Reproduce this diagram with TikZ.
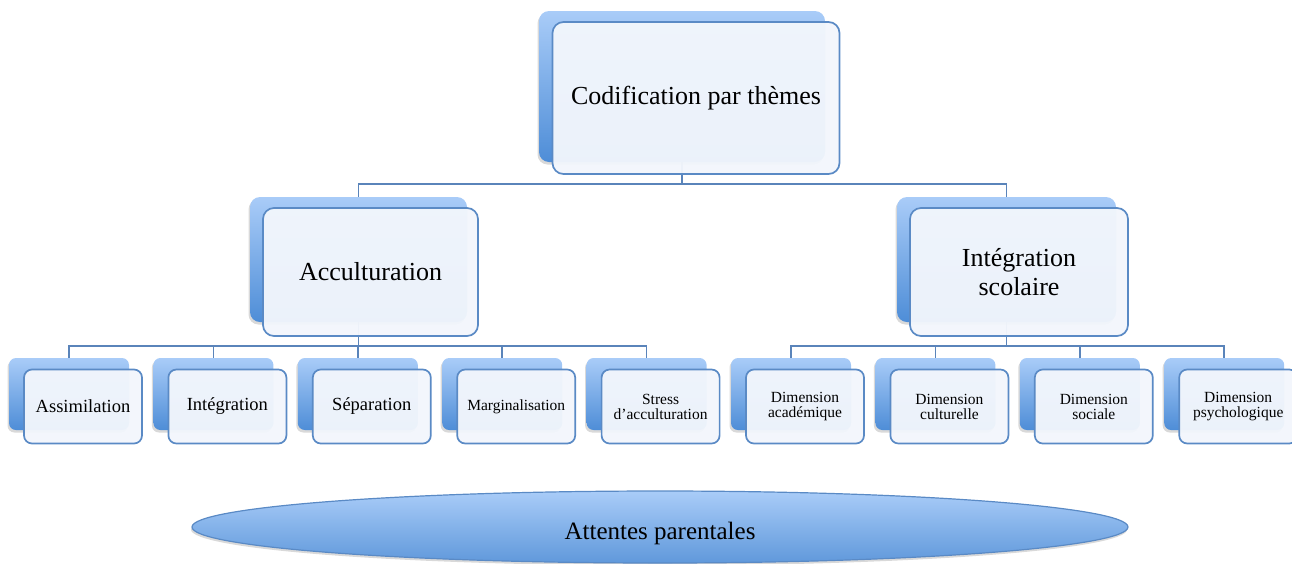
\documentclass[tikz,border=0pt]{standalone}
\usepackage{fontspec}
\setmainfont{Liberation Serif}
\usetikzlibrary{positioning, shapes.geometric, shadows, backgrounds}
\definecolor{boxTop}{HTML}{A9CCF8}
\definecolor{boxBottom}{HTML}{4E8DD7}
\definecolor{cardFill}{HTML}{F2F6FC}
\definecolor{cardLine}{HTML}{5A8AC5}
\definecolor{linkBlue}{HTML}{5A84BA}

\begin{document}
\begin{tikzpicture}[x=1pt, y=-1pt,
          back/.style={rounded corners=10pt, top color=boxTop, bottom color=boxBottom, inner sep=0pt,
            drop shadow={shadow xshift=-1.5pt, shadow yshift=-2.5pt, opacity=0.3}},
          leaf/.style={back, rounded corners=7pt, minimum width=120pt, minimum height=72pt},
          card/.style={draw=cardLine, line width=1.7pt, rounded corners=11pt, fill=cardFill, fill opacity=0.96,
            text opacity=1, align=center, inner sep=1pt},
          leafcard/.style={card, rounded corners=8pt, minimum width=118pt, minimum height=74pt},
          big/.style={font=\fontsize{26}{29}\selectfont},
          small/.style={font=\fontsize{18.5}{20}\selectfont},
          tiny/.style={font=\fontsize{15.5}{15}\selectfont},
          link/.style={draw=linkBlue, line width=1.7pt},
        ]
        \useasboundingbox (0,0) rectangle (1292,563);

        \node[back, minimum width=286pt, minimum height=151pt] (root) at (682,86.5) {};
        \node[back, minimum width=217pt, minimum height=125pt] (acc) at (358.5,259.5) {};
        \node[back, minimum width=219pt, minimum height=125pt] (integ) at (1006.5,259.5) {};

        \node[leaf] (assim) at (69,394) {};
        \node[leaf, right=24pt of assim] (integr) {};
        \node[leaf, right=24pt of integr] (separ) {};
        \node[leaf, right=24pt of separ] (margin) {};
        \node[leaf, right=24pt of margin] (stress) {};
        \node[leaf, right=24pt of stress] (acad) {};
        \node[leaf, right=24pt of acad] (cult) {};
        \node[leaf, right=24pt of cult] (soc) {};
        \node[leaf, right=24pt of soc] (psy) {};

        \node[card, big, minimum width=287pt, minimum height=152pt] (rootCard) at ([shift={(14,11.5)}]root.center) {Codification par thèmes};
        \node[card, big, minimum width=215pt, minimum height=128pt] (accCard) at ([shift={(12,12.5)}]acc.center) {Acculturation};
        \node[card, big, minimum width=218pt, minimum height=128pt] (integCard) at ([shift={(12.5,12.5)}]integ.center) {Intégration\\scolaire};

        \node[leafcard, small] (assimCard) at ([shift={(14,12.5)}]assim.center) {Assimilation};
        \node[leafcard, small] (integrCard) at ([shift={(14,12.5)}]integr.center) {Intégration};
        \node[leafcard, small] (separCard) at ([shift={(14,12.5)}]separ.center) {Séparation};
        \node[leafcard, tiny] (marginCard) at ([shift={(14,12.5)}]margin.center) {Marginalisation};
        \node[leafcard, tiny] (stressCard) at ([shift={(14,12.5)}]stress.center) {Stress\\d’acculturation};
        \node[leafcard, tiny] (acadCard) at ([shift={(14,12.5)}]acad.center) {Dimension\\académique};
        \node[leafcard, tiny] (cultCard) at ([shift={(14,12.5)}]cult.center) {Dimension\\culturelle};
        \node[leafcard, tiny] (socCard) at ([shift={(14,12.5)}]soc.center) {Dimension\\sociale};
        \node[leafcard, tiny] (psyCard) at ([shift={(14,12.5)}]psy.center) {Dimension\\psychologique};

        \node[ellipse, draw=cardLine, line width=1.2pt, top color=boxTop, bottom color=boxBottom!90,
          minimum width=936pt, minimum height=72pt, inner sep=0pt,
          drop shadow={shadow xshift=-1pt, shadow yshift=-2.5pt, opacity=0.3}] (parents) at (660,527) {};
        \node[font=\fontsize{25}{27}\selectfont] (parentsText) at ([yshift=-6pt]parents.center) {Attentes parentales};

        \begin{scope}[on background layer]
          \draw[link] (root.south) -- ++(0,22) -| (acc.north);
          \draw[link] (root.south) -- ++(0,22) -| (integ.north);
          \foreach \kid in {assim, integr, separ, margin, stress}
            \draw[link] (acc.south) -- ++(0,24) -| (\kid.north);
          \foreach \kid in {acad, cult, soc, psy}
            \draw[link] (integ.south) -- ++(0,24) -| (\kid.north);
        \end{scope}
      \end{tikzpicture}
\end{document}
